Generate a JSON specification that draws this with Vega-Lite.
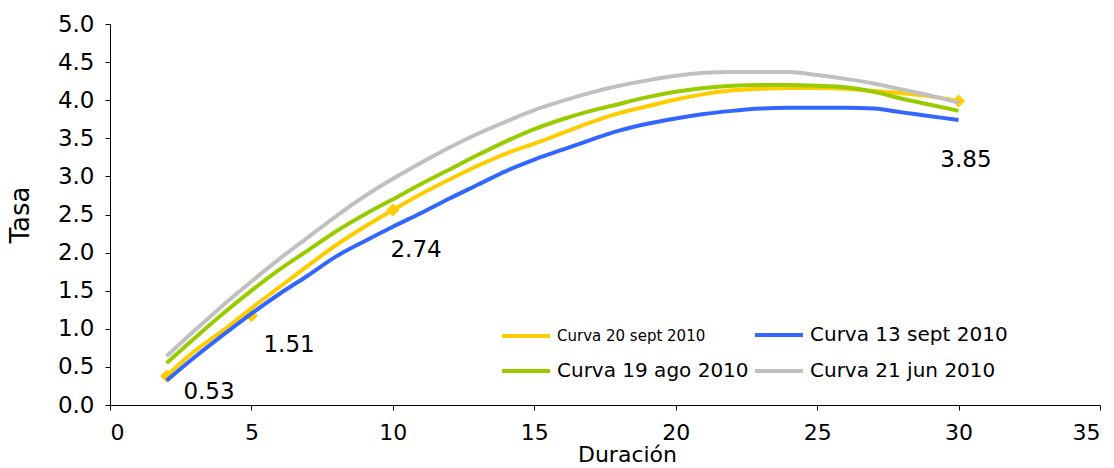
{
  "$schema": "https://vega.github.io/schema/vega-lite/v6.json",
  "width": 990,
  "height": 381,
  "autosize": "none",
  "padding": {"left": 110, "top": 24, "right": 14, "bottom": 63},
  "background": "white",
  "config": {
    "view": {"stroke": null},
    "font": "DejaVu Sans",
    "axis": {"grid": false, "domainColor": "black", "tickColor": "black", "labelColor": "black", "titleColor": "black", "labelFont": "DejaVu Sans", "titleFont": "DejaVu Sans", "labelFontSize": 22, "titleFontSize": 26, "titleFontWeight": "normal", "tickSize": 5, "domainWidth": 1, "tickWidth": 1, "labelOverlap": false}
  },
  "datasets": {
    "curves": [
      {"curva": "Curva 20 sept 2010", "d": 2, "v": 0.38}, {"curva": "Curva 20 sept 2010", "d": 3, "v": 0.71}, {"curva": "Curva 20 sept 2010", "d": 4, "v": 0.98}, {"curva": "Curva 20 sept 2010", "d": 5, "v": 1.27}, {"curva": "Curva 20 sept 2010", "d": 6, "v": 1.55}, {"curva": "Curva 20 sept 2010", "d": 7, "v": 1.83}, {"curva": "Curva 20 sept 2010", "d": 8, "v": 2.1}, {"curva": "Curva 20 sept 2010", "d": 9, "v": 2.34}, {"curva": "Curva 20 sept 2010", "d": 10, "v": 2.56}, {"curva": "Curva 20 sept 2010", "d": 11, "v": 2.77}, {"curva": "Curva 20 sept 2010", "d": 12, "v": 2.96}, {"curva": "Curva 20 sept 2010", "d": 13, "v": 3.14}, {"curva": "Curva 20 sept 2010", "d": 14, "v": 3.3}, {"curva": "Curva 20 sept 2010", "d": 15, "v": 3.43}, {"curva": "Curva 20 sept 2010", "d": 16, "v": 3.57}, {"curva": "Curva 20 sept 2010", "d": 17, "v": 3.71}, {"curva": "Curva 20 sept 2010", "d": 18, "v": 3.83}, {"curva": "Curva 20 sept 2010", "d": 19, "v": 3.92}, {"curva": "Curva 20 sept 2010", "d": 20, "v": 4.01}, {"curva": "Curva 20 sept 2010", "d": 21, "v": 4.08}, {"curva": "Curva 20 sept 2010", "d": 22, "v": 4.13}, {"curva": "Curva 20 sept 2010", "d": 23, "v": 4.15}, {"curva": "Curva 20 sept 2010", "d": 24, "v": 4.16}, {"curva": "Curva 20 sept 2010", "d": 25, "v": 4.16}, {"curva": "Curva 20 sept 2010", "d": 26, "v": 4.15}, {"curva": "Curva 20 sept 2010", "d": 27, "v": 4.12}, {"curva": "Curva 20 sept 2010", "d": 28, "v": 4.09}, {"curva": "Curva 20 sept 2010", "d": 29, "v": 4.05}, {"curva": "Curva 20 sept 2010", "d": 30, "v": 3.99},
      {"curva": "Curva 13 sept 2010", "d": 2, "v": 0.32}, {"curva": "Curva 13 sept 2010", "d": 3, "v": 0.63}, {"curva": "Curva 13 sept 2010", "d": 4, "v": 0.92}, {"curva": "Curva 13 sept 2010", "d": 5, "v": 1.2}, {"curva": "Curva 13 sept 2010", "d": 6, "v": 1.46}, {"curva": "Curva 13 sept 2010", "d": 7, "v": 1.7}, {"curva": "Curva 13 sept 2010", "d": 8, "v": 1.95}, {"curva": "Curva 13 sept 2010", "d": 9, "v": 2.15}, {"curva": "Curva 13 sept 2010", "d": 10, "v": 2.34}, {"curva": "Curva 13 sept 2010", "d": 11, "v": 2.52}, {"curva": "Curva 13 sept 2010", "d": 12, "v": 2.71}, {"curva": "Curva 13 sept 2010", "d": 13, "v": 2.89}, {"curva": "Curva 13 sept 2010", "d": 14, "v": 3.07}, {"curva": "Curva 13 sept 2010", "d": 15, "v": 3.22}, {"curva": "Curva 13 sept 2010", "d": 16, "v": 3.35}, {"curva": "Curva 13 sept 2010", "d": 17, "v": 3.48}, {"curva": "Curva 13 sept 2010", "d": 18, "v": 3.6}, {"curva": "Curva 13 sept 2010", "d": 19, "v": 3.69}, {"curva": "Curva 13 sept 2010", "d": 20, "v": 3.76}, {"curva": "Curva 13 sept 2010", "d": 21, "v": 3.82}, {"curva": "Curva 13 sept 2010", "d": 22, "v": 3.86}, {"curva": "Curva 13 sept 2010", "d": 23, "v": 3.89}, {"curva": "Curva 13 sept 2010", "d": 24, "v": 3.9}, {"curva": "Curva 13 sept 2010", "d": 25, "v": 3.9}, {"curva": "Curva 13 sept 2010", "d": 26, "v": 3.9}, {"curva": "Curva 13 sept 2010", "d": 27, "v": 3.89}, {"curva": "Curva 13 sept 2010", "d": 28, "v": 3.84}, {"curva": "Curva 13 sept 2010", "d": 29, "v": 3.79}, {"curva": "Curva 13 sept 2010", "d": 30, "v": 3.74},
      {"curva": "Curva 19 ago 2010", "d": 2, "v": 0.55}, {"curva": "Curva 19 ago 2010", "d": 3, "v": 0.88}, {"curva": "Curva 19 ago 2010", "d": 4, "v": 1.2}, {"curva": "Curva 19 ago 2010", "d": 5, "v": 1.5}, {"curva": "Curva 19 ago 2010", "d": 6, "v": 1.78}, {"curva": "Curva 19 ago 2010", "d": 7, "v": 2.03}, {"curva": "Curva 19 ago 2010", "d": 8, "v": 2.28}, {"curva": "Curva 19 ago 2010", "d": 9, "v": 2.5}, {"curva": "Curva 19 ago 2010", "d": 10, "v": 2.7}, {"curva": "Curva 19 ago 2010", "d": 11, "v": 2.9}, {"curva": "Curva 19 ago 2010", "d": 12, "v": 3.09}, {"curva": "Curva 19 ago 2010", "d": 13, "v": 3.28}, {"curva": "Curva 19 ago 2010", "d": 14, "v": 3.46}, {"curva": "Curva 19 ago 2010", "d": 15, "v": 3.62}, {"curva": "Curva 19 ago 2010", "d": 16, "v": 3.75}, {"curva": "Curva 19 ago 2010", "d": 17, "v": 3.86}, {"curva": "Curva 19 ago 2010", "d": 18, "v": 3.95}, {"curva": "Curva 19 ago 2010", "d": 19, "v": 4.04}, {"curva": "Curva 19 ago 2010", "d": 20, "v": 4.11}, {"curva": "Curva 19 ago 2010", "d": 21, "v": 4.16}, {"curva": "Curva 19 ago 2010", "d": 22, "v": 4.19}, {"curva": "Curva 19 ago 2010", "d": 23, "v": 4.2}, {"curva": "Curva 19 ago 2010", "d": 24, "v": 4.2}, {"curva": "Curva 19 ago 2010", "d": 25, "v": 4.19}, {"curva": "Curva 19 ago 2010", "d": 26, "v": 4.17}, {"curva": "Curva 19 ago 2010", "d": 27, "v": 4.11}, {"curva": "Curva 19 ago 2010", "d": 28, "v": 4.02}, {"curva": "Curva 19 ago 2010", "d": 29, "v": 3.94}, {"curva": "Curva 19 ago 2010", "d": 30, "v": 3.86},
      {"curva": "Curva 21 jun 2010", "d": 2, "v": 0.64}, {"curva": "Curva 21 jun 2010", "d": 3, "v": 0.98}, {"curva": "Curva 21 jun 2010", "d": 4, "v": 1.31}, {"curva": "Curva 21 jun 2010", "d": 5, "v": 1.62}, {"curva": "Curva 21 jun 2010", "d": 6, "v": 1.92}, {"curva": "Curva 21 jun 2010", "d": 7, "v": 2.2}, {"curva": "Curva 21 jun 2010", "d": 8, "v": 2.48}, {"curva": "Curva 21 jun 2010", "d": 9, "v": 2.74}, {"curva": "Curva 21 jun 2010", "d": 10, "v": 2.97}, {"curva": "Curva 21 jun 2010", "d": 11, "v": 3.18}, {"curva": "Curva 21 jun 2010", "d": 12, "v": 3.38}, {"curva": "Curva 21 jun 2010", "d": 13, "v": 3.56}, {"curva": "Curva 21 jun 2010", "d": 14, "v": 3.72}, {"curva": "Curva 21 jun 2010", "d": 15, "v": 3.87}, {"curva": "Curva 21 jun 2010", "d": 16, "v": 3.99}, {"curva": "Curva 21 jun 2010", "d": 17, "v": 4.1}, {"curva": "Curva 21 jun 2010", "d": 18, "v": 4.19}, {"curva": "Curva 21 jun 2010", "d": 19, "v": 4.26}, {"curva": "Curva 21 jun 2010", "d": 20, "v": 4.32}, {"curva": "Curva 21 jun 2010", "d": 21, "v": 4.36}, {"curva": "Curva 21 jun 2010", "d": 22, "v": 4.37}, {"curva": "Curva 21 jun 2010", "d": 23, "v": 4.37}, {"curva": "Curva 21 jun 2010", "d": 24, "v": 4.37}, {"curva": "Curva 21 jun 2010", "d": 25, "v": 4.33}, {"curva": "Curva 21 jun 2010", "d": 26, "v": 4.28}, {"curva": "Curva 21 jun 2010", "d": 27, "v": 4.22}, {"curva": "Curva 21 jun 2010", "d": 28, "v": 4.14}, {"curva": "Curva 21 jun 2010", "d": 29, "v": 4.06}, {"curva": "Curva 21 jun 2010", "d": 30, "v": 3.97}
    ],
    "markers": [
      {"d": 2, "v": 0.38}, {"d": 5, "v": 1.17}, {"d": 10, "v": 2.56}, {"d": 30, "v": 3.99}
    ],
    "labels": [
      {"d": 3.5, "v": 0.17, "t": "0.53"}, {"d": 6.33, "v": 0.79, "t": "1.51"}, {"d": 10.82, "v": 2.03, "t": "2.74"}, {"d": 30.26, "v": 3.22, "t": "3.85"}
    ]
  },
  "encoding": {
    "x": {"field": "d", "type": "quantitative", "title": "Duración", "scale": {"domain": [0, 35], "nice": false}, "axis": {"values": [0, 5, 10, 15, 20, 25, 30, 35], "labelPadding": 12, "titlePadding": 1, "titleFontSize": 22, "titleX": 517}},
    "y": {"field": "v", "type": "quantitative", "title": "Tasa", "scale": {"domain": [0, 5], "nice": false}, "axis": {"values": [0, 0.5, 1, 1.5, 2, 2.5, 3, 3.5, 4, 4.5, 5], "format": ".1f", "labelPadding": 11, "labelFontSize": 23, "titlePadding": 24, "labelOverlap": false}}
  },
  "layer": [
    {
      "data": {"name": "markers"},
      "mark": {"type": "point", "shape": "diamond", "filled": true, "size": 170, "color": "#FFCC00", "opacity": 1}
    },
    {
      "data": {"name": "curves"},
      "mark": {"type": "line", "strokeWidth": 4, "interpolate": "monotone"},
      "encoding": {
        "color": {
          "field": "curva", "type": "nominal",
          "scale": {"domain": ["Curva 20 sept 2010", "Curva 13 sept 2010", "Curva 19 ago 2010", "Curva 21 jun 2010"], "range": ["#FFCC00", "#3366FF", "#99CC00", "#C0C0C0"]},
          "legend": {
            "title": null, "orient": "none", "legendX": 390, "legendY": 285, "columns": 2, "direction": "horizontal",
            "symbolType": "stroke", "symbolSize": 2304, "symbolStrokeWidth": 4, "labelFont": "DejaVu Sans", "labelFontSize": 20, "labelColor": "black", "labelOffset": 5, "labelLimit": 400, "columnPadding": -2, "rowPadding": -11, "padding": 0,
            "encode": {"labels": {"update": {"fontSize": {"signal": "datum.label === 'Curva 20 sept 2010' ? 15 : 20"}}}}
          }
        }
      }
    },
    {
      "data": {"name": "labels"},
      "mark": {"type": "text", "fontSize": 23, "font": "DejaVu Sans", "color": "black", "align": "center", "baseline": "middle"},
      "encoding": {
        "text": {"field": "t"}
      }
    }
  ]
}
